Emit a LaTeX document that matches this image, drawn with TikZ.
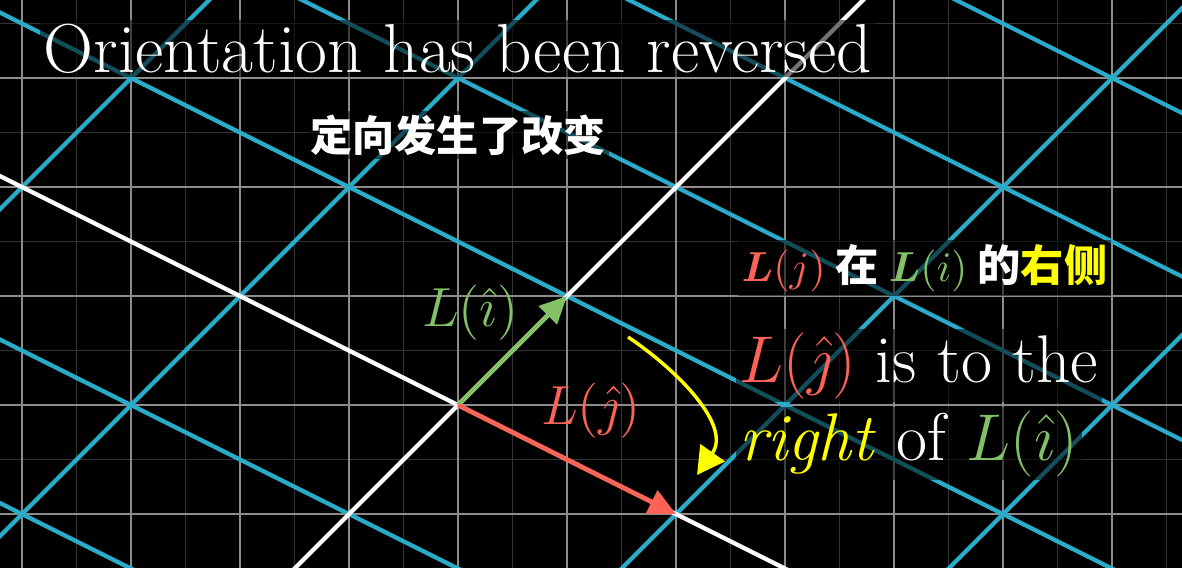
\documentclass[tikz,border=0pt]{standalone}
\usepackage{amsmath,amssymb}
\usepackage{fontspec}
\newfontfamily\cjk{Noto Sans CJK SC}
\usetikzlibrary{positioning,arrows.meta}
\definecolor{gridblue}{HTML}{29ABCA}
\definecolor{vecgreen}{HTML}{83C167}
\definecolor{vecred}{HTML}{FC6255}
\definecolor{turnyellow}{HTML}{FFFF00}
\newcommand{\frameBox}{(-4.202,-1.495) rectangle (6.642,3.716)}

\begin{document}
\begin{tikzpicture}[
  minorline/.style={draw=white!20!black, line width=0.4pt},
  majorline/.style={draw=white!55!black, line width=0.55pt},
  bluegrid/.style={draw=gridblue, line width=1.1pt},
  axisline/.style={draw=white, line width=1.1pt},
  vecarrow/.style={line width=1.2pt, -{Triangle[length=0.25cm,width=0.23cm]}},
  dimbox/.style={fill=black, fill opacity=0.55, text opacity=1, inner sep=1pt},
  bigtext/.style={dimbox, text=white, font=\fontsize{17.6}{20}\selectfont},
]
\useasboundingbox \frameBox;
\fill[black] \frameBox;
\begin{scope}
\clip \frameBox;
% background plane
\draw[minorline] (-4.5,-2) grid[step=0.5] (7,4);
\draw[majorline] (-4.5,-2) grid[step=1] (7,4);
% transformed grid
\foreach \a in {-2,-1,1,2,3,4}
  \draw[bluegrid] (\a-12,\a+6) -- (\a+12,\a-6);
\foreach \b in {-2,-1,1,2}
  \draw[bluegrid] (2*\b-8,-\b-8) -- (2*\b+8,-\b+8);
\draw[axisline] (-12,6) -- (12,-6);
\draw[axisline] (-8,-8) -- (8,8);
\end{scope}

\coordinate (O) at (0,0);
\coordinate (Li) at (1,1);
\coordinate (Lj) at (2,-1);
\draw[vecarrow, vecgreen] (O) -- (Li);
\draw[vecarrow, vecred] (O) -- (Lj);
\node[text=vecgreen, font=\fontsize{13.4}{15}\selectfont] (labi) at (0.11,0.85) {$L(\hat{\imath})$};
\node[text=vecred, font=\fontsize{13.4}{15}\selectfont] (labj) at (1.22,-0.05) {$L(\hat{\jmath})$};

% turning arrow
\coordinate (turnstart) at (1.56,0.624);
\coordinate (turnend) at (2.193,-0.642);
\draw[turnyellow, line width=0.9pt, -{Triangle[length=0.25cm,width=0.27cm]}]
  (turnstart) to[out=-34,in=55] (turnend);

% titles
\node[dimbox, text=white, anchor=base, font=\fontsize{18.1}{21}\selectfont] (title) at (0,3.055) {Orientation has been reversed};
\node[dimbox, text=white, font=\cjk\bfseries\fontsize{11}{13}\selectfont] (subtitle) at (0,2.477) {定向发生了改变};

% side remarks
\node[dimbox, text=white, anchor=west, font=\cjk\bfseries\fontsize{11.3}{13}\selectfont] (zhnote) at (2.56,1.257)
  {\textcolor{vecred}{$\boldsymbol{L}(j)$} 在 \textcolor{vecgreen}{$\boldsymbol{L}(i)$} 的\textcolor{turnyellow}{右侧}};
\node[bigtext, anchor=base west] (istothe) at (2.54,0.211)
  {\textcolor{vecred}{$L(\hat{\jmath})$} is to the};
\node[bigtext, anchor=base west] (rightof) at ([yshift=-0.716cm]istothe.base west)
  {\textcolor{turnyellow}{\textit{right}} of \textcolor{vecgreen}{$L(\hat{\imath})$}};
\end{tikzpicture}
\end{document}
